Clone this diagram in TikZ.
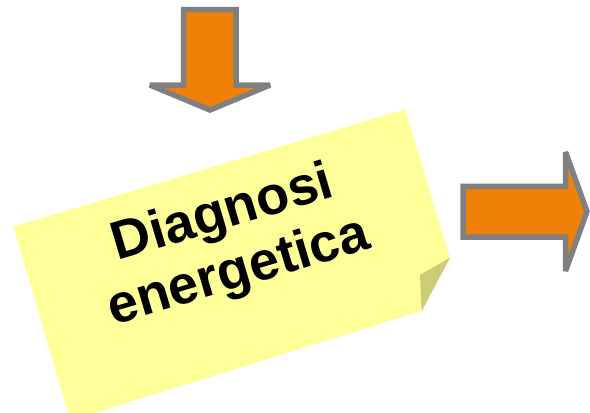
\documentclass[tikz,border=0pt]{standalone}
\usepackage{fontspec}
\setmainfont{Liberation Sans}
\definecolor{arroworange}{RGB}{240,128,8}
\definecolor{arrowgray}{RGB}{128,128,128}
\definecolor{noteyellow}{RGB}{255,255,153}
\definecolor{notefold}{RGB}{204,204,119}
\tikzset{
  bigarrow/.style={fill=arroworange, draw=arrowgray, line width=5.5pt, line join=miter, miter limit=3},
  notebody/.style={fill=noteyellow, draw=none},
  notecorner/.style={fill=notefold, draw=none},
  notetext/.style={font=\bfseries\fontsize{54}{58}\selectfont, text=black, rotate=16.6, anchor=base, inner sep=0pt}
}
\begin{document}
\begin{tikzpicture}[x=1pt,y=-1pt]
\clip (0,0) rectangle (590,413);
% down arrow
\draw[bigarrow] (183.7,9.7) -- (236.2,9.7) -- (236.2,85) -- (270,85) -- (210,110) -- (150,85) -- (183.7,85) -- cycle;
% right arrow
\draw[bigarrow] (463,186.3) -- (565.5,186.3) -- (565.5,152) -- (587,211.5) -- (565.5,271) -- (565.5,237.2) -- (463,237.2) -- cycle;
% sticky note
\fill[notebody] (13.3,226.7) -- (405,109.3) -- (450,257.7) -- (421.7,311) -- (70.5,420.5) -- cycle;
\fill[notecorner] (450,257.7) -- (420,275) -- (421.7,311) -- cycle;
\node[notetext] (line1) at (227,228.3) {Diagnosi};
\node[notetext] (line2) at (243,286.7) {energetica};
\end{tikzpicture}
\end{document}
